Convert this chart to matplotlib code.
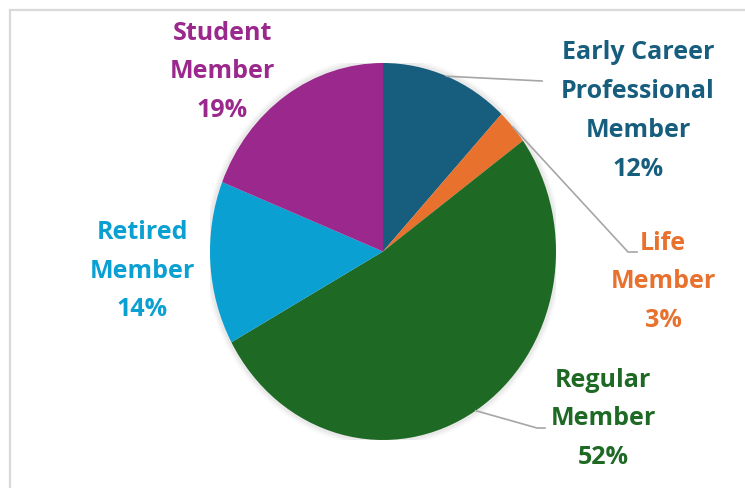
import numpy as np
import matplotlib.pyplot as plt
from matplotlib.lines import Line2D

# data
names = ['Early Career\nProfessional\nMember', 'Life\nMember', 'Regular\nMember',
         'Retired\nMember', 'Student\nMember']
shares = [12, 3, 52, 14, 19]
colors = ['#175e7e', '#e8712e', '#1e6a25', '#0ba0d2', '#9b288c']

W, H = 745, 489
fig = plt.figure(figsize=(W/100, H/100), dpi=100)

# pie box in pixels (the pie is a bit squashed sideways)
cx, cy, rx, ry = 383, 252.5, 173, 188.5
ax = fig.add_axes([(cx-rx)/W, (H-cy-ry)/H, 2*rx/W, 2*ry/H])

def px(x, y):
    # pixel position -> data coords of the pie axes
    return (x-cx)/rx, (cy-y)/ry

# soft shadow around the pie
for k, a in zip([1.035, 1.025, 1.015], [0.04, 0.06, 0.08]):
    t = np.linspace(0, 2*np.pi, 200)
    ax.fill(k*np.cos(t), k*np.sin(t), color='#808080', alpha=a, lw=0, zorder=0)

wedges, _ = ax.pie(shares, colors=colors, startangle=90, counterclock=False,
                   wedgeprops=dict(linewidth=0))
ax.set_aspect('auto')
ax.set_xlim(-1, 1)
ax.set_ylim(-1, 1)
ax.axis('off')

# label centres (pixels) and leader elbows
label_pos = [(638, 111), (663, 282), (603, 419), (142, 271), (222, 72)]
leaders = {0: [(542, 82)], 1: [(628, 253), (637, 253)], 2: [(537, 429), (545, 429)]}

for i, (n, v) in enumerate(zip(names, shares)):
    lx, ly = px(*label_pos[i])
    ax.text(lx, ly, f'{n}\n{v}%', ha='center', va='center', color=colors[i],
            fontsize=18, fontweight='bold', family=['Open Sans', 'DejaVu Sans'],
            linespacing=1.72, clip_on=False)
    if i in leaders:
        w = wedges[i]
        mid = np.deg2rad((w.theta1 + w.theta2) / 2)
        xs = [np.cos(mid)] + [px(*p)[0] for p in leaders[i]]
        ys = [np.sin(mid)] + [px(*p)[1] for p in leaders[i]]
        ax.plot(xs, ys, color='#a6a6a6', lw=1.2, clip_on=False, zorder=5)

# chart frame (top and left edges visible)
fig.add_artist(Line2D([9.5/W, 9.5/W], [0, 1-11/H], color='#d9d9d9', lw=1.6))
fig.add_artist(Line2D([9.5/W, 1], [1-11/H, 1-11/H], color='#d9d9d9', lw=1.6))

plt.savefig('out.png', dpi=100)
